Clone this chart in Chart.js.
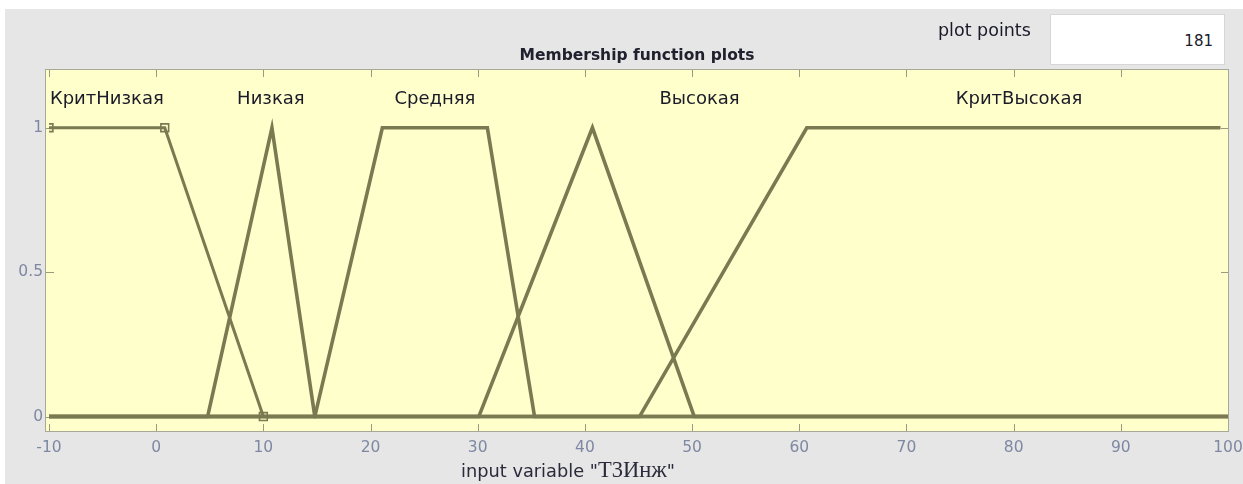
<!DOCTYPE html>
<html>
<head>
<meta charset="utf-8">
<script src="https://cdn.jsdelivr.net/npm/chart.js@4"></script>
<style>
  html, body { margin:0; padding:0; background:#ffffff; width:1243px; height:484px; overflow:hidden; }
  #panel { position:absolute; left:5px; top:9px; width:1238px; height:475px; background:#e6e6e6; }
  #wrap { position:absolute; left:0; top:0; width:1243px; height:484px; }
  .txt { position:absolute; white-space:nowrap; font-family:"DejaVu Sans", sans-serif; color:#1a1a2a; line-height:1; }
  #title { left:437px; width:400px; top:48px; text-align:center; font-size:15.5px; font-weight:bold; color:#20202e; }
  #pp { left:938px; top:22px; font-size:17.5px; }
  #ppbox { position:absolute; left:1050px; top:14px; width:175px; height:51px; background:#ffffff; border:1px solid #d6d6d6; box-sizing:border-box; }
  #ppval { position:absolute; right:11px; top:19px; font-family:"DejaVu Sans", sans-serif; font-size:15px; color:#1a1a2a; line-height:1; }
  #xlabel { left:461px; top:459px; font-size:17.8px; color:#2a2a3a; }
  #xlabel .serif { font-family:"Liberation Serif", "DejaVu Serif", serif; font-size:22.5px; }
</style>
</head>
<body>
<div id="panel"></div>
<div id="wrap"><canvas id="c" width="1243" height="484"></canvas></div>
<div class="txt" id="title">Membership function plots</div>
<div class="txt" id="pp">plot points</div>
<div id="ppbox"><span id="ppval">181</span></div>
<div class="txt" id="xlabel">input variable "<span class="serif">Т3Инж</span>"</div>
<script>
// ---- data ----
const mfNames = ["КритНизкая", "Низкая", "Средняя", "Высокая", "КритВысокая"];
const critLowX  = [-10, 0.8, 10, 100];
const critLowY  = [1, 1, 0, 0];
const lowX      = [-10, 4.8, 10.8, 14.8, 100];
const lowY      = [0, 0, 1, 0, 0];
const midX      = [-10, 14.8, 21.1, 30.9, 35.3, 100];
const midY      = [0, 0, 1, 1, 0, 0];
const highX     = [-10, 30.1, 40.7, 50.2, 100];
const highY     = [0, 0, 1, 0, 0];
const critHighX = [-10, 45.1, 60.7, 99.3];
const critHighY = [0, 0, 1, 1];
const labelX    = [-4.6, 10.7, 26, 50.7, 80.5];   // label anchors in data units
const labelY    = 1.1;
const xTicks    = [-10, 0, 10, 20, 30, 40, 50, 60, 70, 80, 90, 100];
const yTicks    = [0, 0.5, 1];
const xMin = -10, xMax = 100, yMin = -0.05, yMax = 1.2;

const LINE = '#7a7a52';
const pts = (xs, ys) => xs.map((x, i) => ({ x: x, y: ys[i] }));

const frame = {
  id: 'frame',
  beforeDatasetsDraw(chart) {
    const { ctx, chartArea: a, scales } = chart;
    ctx.save();
    ctx.fillStyle = '#ffffcb';
    ctx.fillRect(a.left - 3, a.top, a.right - a.left + 3, a.bottom - a.top);
    ctx.strokeStyle = '#9a9a80';
    ctx.lineWidth = 1;
    ctx.beginPath();
    xTicks.forEach(v => {
      const px = Math.round(scales.x.getPixelForValue(v)) + 0.5;
      ctx.moveTo(px, a.bottom); ctx.lineTo(px, a.bottom - 7);
      ctx.moveTo(px, a.top); ctx.lineTo(px, a.top + 7);
    });
    yTicks.forEach(v => {
      const py = Math.round(scales.y.getPixelForValue(v)) + 0.5;
      ctx.moveTo(a.left - 3, py); ctx.lineTo(a.left + 5, py);
      ctx.moveTo(a.right, py); ctx.lineTo(a.right - 7, py);
    });
    ctx.stroke();
    ctx.restore();
  },
  afterDatasetsDraw(chart) {
    const { ctx, chartArea: a, scales } = chart;
    ctx.save();
    ctx.strokeStyle = '#a8a898';
    ctx.lineWidth = 1;
    ctx.strokeRect(a.left - 3.5, a.top - 0.5, a.right - a.left + 4, a.bottom - a.top + 1);
    ctx.fillStyle = '#1a1a2a';
    ctx.font = '18px "DejaVu Sans", sans-serif';
    ctx.textAlign = 'center';
    ctx.textBaseline = 'middle';
    mfNames.forEach((n, i) => {
      ctx.fillText(n, scales.x.getPixelForValue(labelX[i]), scales.y.getPixelForValue(labelY));
    });
    ctx.restore();
  }
};

const ds = (label, xs, ys, extra) => Object.assign({
  label: label,
  data: pts(xs, ys),
  showLine: true,
  borderColor: LINE,
  borderWidth: 3.6,
  pointRadius: 0,
  tension: 0,
  fill: false
}, extra || {});

new Chart(document.getElementById('c'), {
  type: 'scatter',
  data: {
    datasets: [
      ds(mfNames[0], critLowX, critLowY, {
        borderWidth: 3,
        pointStyle: 'rect',
        pointRadius: [5.5, 5.5, 5.5, 0],
        pointBorderWidth: 1.6,
        pointBorderColor: LINE,
        pointBackgroundColor: 'rgba(0,0,0,0)'
      }),
      ds(mfNames[1], lowX, lowY),
      ds(mfNames[2], midX, midY),
      ds(mfNames[3], highX, highY),
      ds(mfNames[4], critHighX, critHighY)
    ]
  },
  plugins: [frame],
  options: {
    responsive: false,
    animation: false,
    devicePixelRatio: 1,
    layout: { padding: { left: 5, top: 70, right: 15, bottom: 0 } },
    plugins: { legend: { display: false }, tooltip: { enabled: false }, title: { display: false } },
    scales: {
      x: {
        type: 'linear', min: xMin, max: xMax,
        afterBuildTicks: s => { s.ticks = xTicks.map(v => ({ value: v })); },
        afterFit: s => { s.height = 53; s.paddingLeft = 0; s.paddingRight = 0; },
        grid: { display: false, drawTicks: false },
        border: { display: false },
        ticks: { color: '#7e88a2', font: { family: '"DejaVu Sans", sans-serif', size: 15.5 }, padding: 8, maxRotation: 0, autoSkip: false }
      },
      y: {
        type: 'linear', min: yMin, max: yMax,
        afterBuildTicks: s => { s.ticks = yTicks.map(v => ({ value: v })); },
        afterFit: s => { s.width = 44; s.paddingTop = 0; s.paddingBottom = 0; },
        grid: { display: false, drawTicks: false },
        border: { display: false },
        ticks: { color: '#7e88a2', font: { family: '"DejaVu Sans", sans-serif', size: 15.5 }, padding: 6,
                 callback: v => String(v) }
      }
    }
  }
});
</script>
</body>
</html>
